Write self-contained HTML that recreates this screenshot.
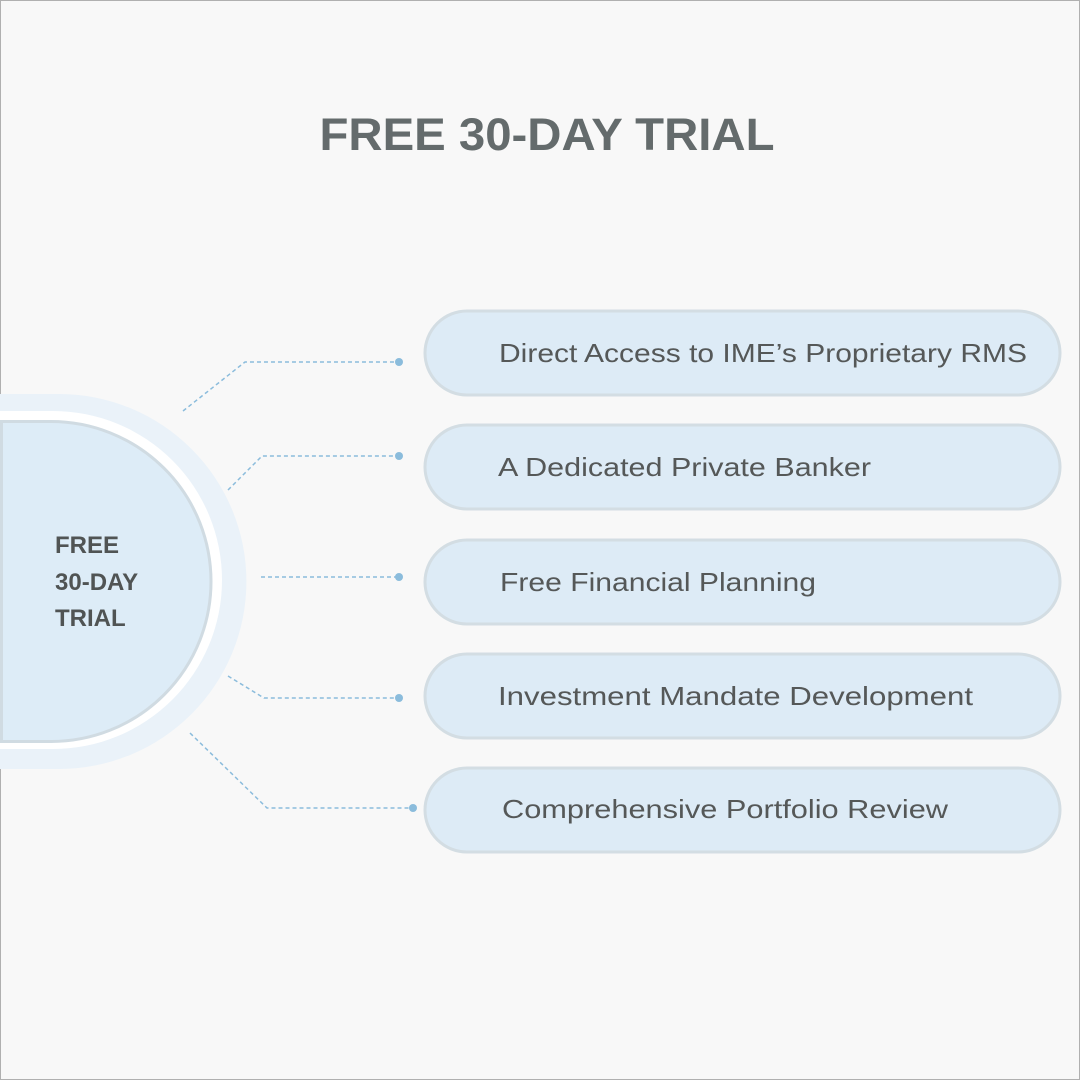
<!DOCTYPE html>
<html><head><meta charset="utf-8"><style>
html,body{margin:0;padding:0;background:#f8f8f8;}
svg{display:block}
</style></head><body>
<svg width="1080" height="1080" viewBox="0 0 1080 1080" xmlns="http://www.w3.org/2000/svg">
<rect x="0.5" y="0.5" width="1079" height="1079" fill="#f8f8f8" stroke="#b0b0b0" stroke-width="1"/>
<text x="547" y="150" text-anchor="middle" font-family="Liberation Sans, sans-serif" font-weight="bold" font-size="45" fill="#646b6c" textLength="455" lengthAdjust="spacingAndGlyphs">FREE 30-DAY TRIAL</text>
<!-- halo -->
<path d="M0,394 H59 A187.5,187.5 0 0 1 59,769 H0 Z" fill="#eaf2f9"/>
<path d="M0,411 H53 A169,169 0 0 1 53,749 H0 Z" fill="#ffffff"/>
<path d="M1.5,421.5 H51 A160,160 0 0 1 51,741.5 H1.5 Z" fill="#ddecf7" stroke="#d0dbe2" stroke-width="3"/>
<g font-family="Liberation Sans, sans-serif" font-weight="bold" font-size="24" fill="#505454">
<text x="55" y="553">FREE</text>
<text x="55" y="590">30-DAY</text>
<text x="55" y="626">TRIAL</text>
</g>
<!-- connectors -->
<g fill="none" stroke="#8bbcdc" stroke-width="1.5" stroke-dasharray="4,3">
<polyline points="183,411 245,362 399,362"/>
<polyline points="228,490 262,456 399,456"/>
<polyline points="261,577 399,577"/>
<polyline points="228,676 264,698 399,698"/>
<polyline points="190,733 267,808 413,808"/>
</g>
<g fill="#8bbcdc">
<circle cx="399" cy="362" r="4"/>
<circle cx="399" cy="456" r="4"/>
<circle cx="399" cy="577" r="4"/>
<circle cx="399" cy="698" r="4"/>
<circle cx="413" cy="808" r="4"/>
</g>
<!-- boxes -->
<g fill="#ddebf6" stroke="#d3dde3" stroke-width="3">
<rect x="425" y="311" width="635" height="84" rx="42"/>
<rect x="425" y="425" width="635" height="84" rx="42"/>
<rect x="425" y="540" width="635" height="84" rx="42"/>
<rect x="425" y="654" width="635" height="84" rx="42"/>
<rect x="425" y="768" width="635" height="84" rx="42"/>
</g>
<g font-family="Liberation Sans, sans-serif" font-size="26" fill="#555858">
<text x="499" y="362" textLength="528" lengthAdjust="spacingAndGlyphs">Direct Access to IME’s Proprietary RMS</text>
<text x="498" y="476" textLength="373" lengthAdjust="spacingAndGlyphs">A Dedicated Private Banker</text>
<text x="500" y="591" textLength="316" lengthAdjust="spacingAndGlyphs">Free Financial Planning</text>
<text x="498" y="705" textLength="475" lengthAdjust="spacingAndGlyphs">Investment Mandate Development</text>
<text x="502" y="818" textLength="446" lengthAdjust="spacingAndGlyphs">Comprehensive Portfolio Review</text>
</g>
</svg>
</body></html>
